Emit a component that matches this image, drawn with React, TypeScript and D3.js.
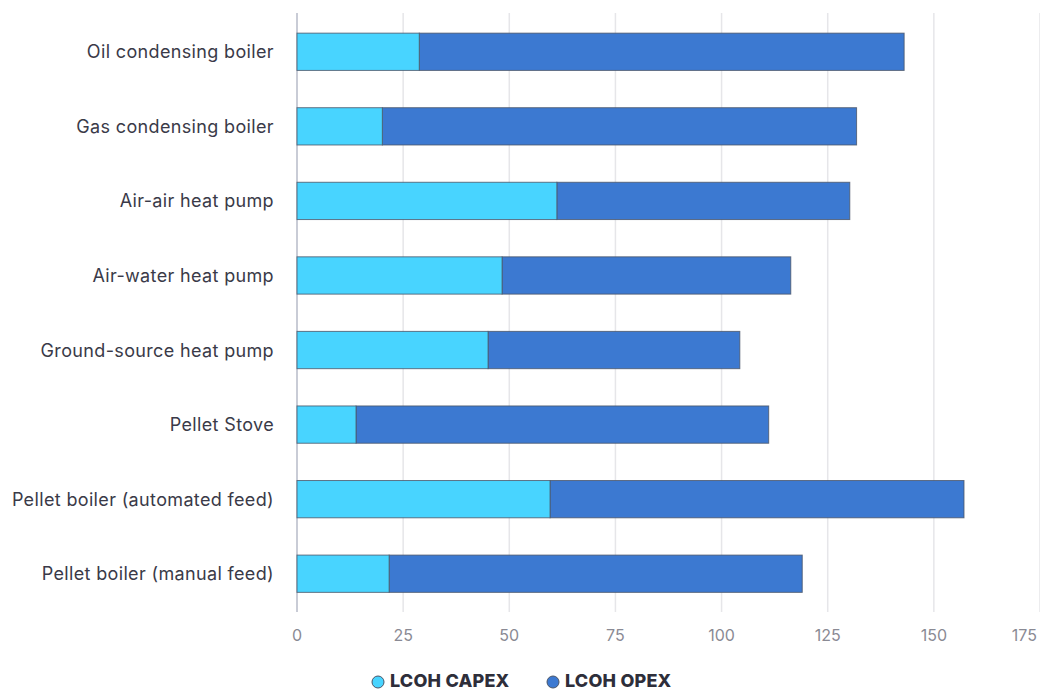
import React from "react";
import * as d3 from "d3";

const categories = [
  "Oil condensing boiler",
  "Gas condensing boiler",
  "Air-air heat pump",
  "Air-water heat pump",
  "Ground-source heat pump",
  "Pellet Stove",
  "Pellet boiler (automated feed)",
  "Pellet boiler (manual feed)",
];
const capex = [28.8, 20.1, 61.2, 48.3, 45.0, 13.9, 59.6, 21.7];
const opex = [114.2, 111.7, 69.0, 68.0, 59.3, 97.2, 97.5, 97.3];
const ticks = [0, 25, 50, 75, 100, 125, 150, 175];
const seriesNames = ["LCOH CAPEX", "LCOH OPEX"];
const colors = ["#48D4FF", "#3C79D1"];

const W = 1040;
const H = 690;
const left = 297;
const right = 1040;

export default function App() {
  const x = d3.scaleLinear().domain([0, 175]).range([left, right]);
  const y = d3
    .scaleBand<string>()
    .domain(categories)
    .range([14.5, 611])
    .paddingInner(0.5)
    .paddingOuter(0.25);
  const font = "Inter, 'Noto Sans', sans-serif";
  const bw = y.bandwidth();
  return (
    <svg
      width={W}
      height={H}
      style={{ position: "absolute", left: 0, top: 0, background: "#fff" }}
      fontFamily={font}
    >
      {ticks.map((t) => (
        <line
          key={"g" + t}
          x1={x(t)}
          x2={x(t)}
          y1={13}
          y2={612}
          stroke={t === 0 ? "#c9ccd6" : "#e6e6e9"}
          strokeWidth={t === 0 ? 2 : 1.5}
        />
      ))}
      {categories.map((c, i) => {
        const yy = y(c)!;
        const x0 = x(0);
        const x1 = x(capex[i]);
        const x2 = x(capex[i] + opex[i]);
        return (
          <g key={c}>
            <rect
              x={x1}
              y={yy}
              width={x2 - x1}
              height={bw}
              fill={colors[1]}
              stroke="#4a5568"
              strokeOpacity={0.8}
              strokeWidth={1}
            />
            <rect
              x={x0}
              y={yy}
              width={x1 - x0}
              height={bw}
              fill={colors[0]}
              stroke="#4a5568"
              strokeOpacity={0.8}
              strokeWidth={1}
            />
            <text
              x={274}
              y={yy + bw / 2}
              textAnchor="end"
              dominantBaseline="central"
              fontSize={18}
              letterSpacing={0.35}
              fill="#3a3a48"
            >
              {c}
            </text>
          </g>
        );
      })}
      {ticks.map((t, i) => (
        <text
          key={"t" + t}
          x={i === ticks.length - 1 ? 1037 : x(t)}
          y={635}
          textAnchor={i === ticks.length - 1 ? "end" : "middle"}
          dominantBaseline="central"
          fontSize={16}
          fill="#8a8a94"
        >
          {t}
        </text>
      ))}
      {seriesNames.map((s, i) => {
        const lx = i === 0 ? 378 : 553;
        return (
          <g key={s}>
            <circle cx={lx} cy={682} r={6} fill={colors[i]} stroke="#4a5568" strokeWidth={1} />
            <text
              x={lx + 12}
              y={680}
              dominantBaseline="central"
              fontSize={18}
              fontWeight={800}
              letterSpacing={0.2}
              fill="#2e2e3a"
            >
              {s}
            </text>
          </g>
        );
      })}
    </svg>
  );
}
